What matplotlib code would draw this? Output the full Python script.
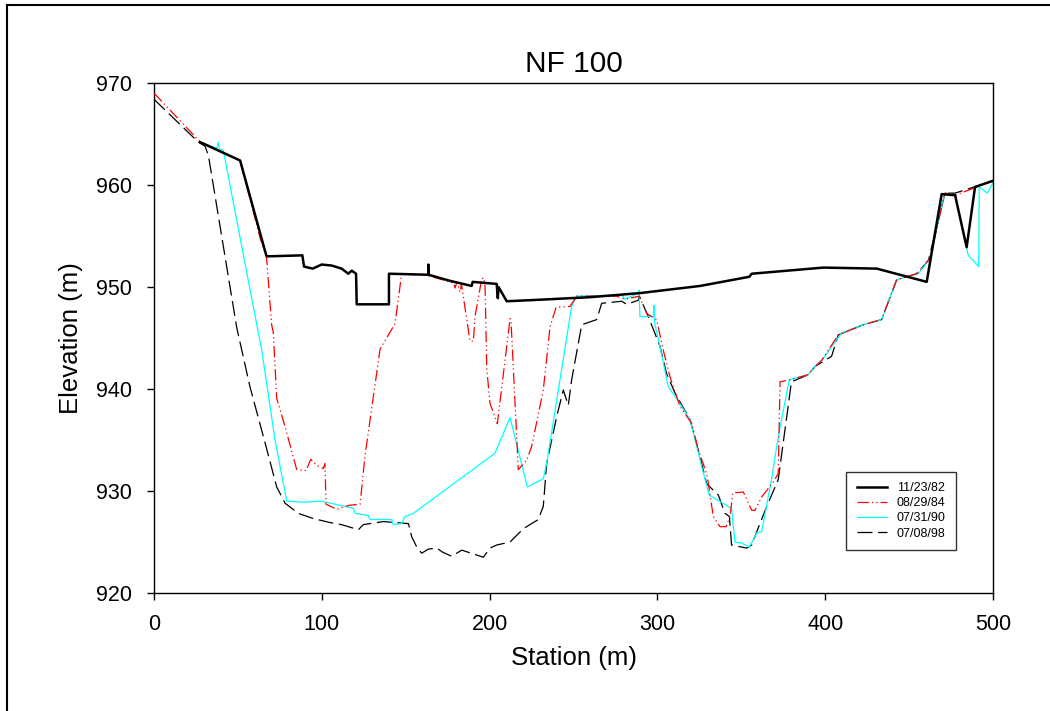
import matplotlib
matplotlib.use("Agg")
import matplotlib.pyplot as plt
from matplotlib.lines import Line2D

plt.rcParams['font.family'] = ['Liberation Sans', 'DejaVu Sans']

# 11/23/82 survey
sta_82 = [27.4, 51.3, 66.2, 67.1, 88.4, 89.4, 94.6, 99.9, 105.9, 111.8, 115.8, 117.8,
          120.4, 120.8, 140.0, 140.0, 163.4, 163.5, 163.6, 176.4, 189.3, 189.9, 204.2,
          204.9, 205.3, 210.2, 230.0, 260.0, 289.6, 325.4, 354.8, 356.2, 398.9, 430.7,
          460.5, 469.4, 477.4, 484.3, 489.3, 499.8]
elev_82 = [964.2, 962.4, 953.5, 953.0, 953.1, 952.0, 951.8, 952.2, 952.1, 951.8, 951.3, 951.6,
           951.3, 948.3, 948.3, 951.3, 951.2, 952.2, 951.2, 950.6, 950.1, 950.5, 950.3,
           948.9, 950.0, 948.6, 948.75, 949.0, 949.4, 950.1, 951.0, 951.3, 951.9, 951.8,
           950.5, 959.1, 959.0, 953.9, 959.8, 960.4]

# 08/29/84 survey
sta_84 = [0.0, 27.0, 51.3, 63.2, 67.0, 70.1, 71.1, 73.1, 78.1, 85.0, 90.6, 93.4, 97.0,
          100.9, 101.9, 102.5, 108.9, 116.4, 122.8, 125.7, 134.7, 143.6, 147.6, 163.4,
          163.5, 163.6, 178.4, 179.4, 180.5, 182.4, 183.2, 188.3, 190.3, 191.3, 195.3,
          196.5, 197.3, 198.3, 200.2, 204.6, 212.2, 212.8, 217.1, 222.1, 225.1, 232.0,
          236.0, 239.6, 247.9, 251.9, 275.7, 280.7, 289.2, 293.6, 299.5, 303.5, 307.5,
          309.5, 313.5, 320.5, 324.4, 329.4, 330.4, 333.3, 337.3, 340.9, 343.3, 344.9,
          351.2, 356.2, 358.2, 362.1, 369.1, 372.0, 373.1, 379.0, 389.9, 393.9, 397.9,
          407.8, 410.8, 422.7, 433.6, 442.6, 454.5, 462.4, 471.4, 477.4, 500.0]
elev_84 = [969.0, 964.3, 962.4, 954.8, 953.0, 946.3, 945.5, 939.1, 936.3, 932.1, 932.0, 933.1, 932.5,
           932.2, 932.7, 928.7, 928.2, 928.6, 928.7, 933.4, 943.9, 946.4, 951.3, 951.1,
           952.0, 951.1, 950.4, 949.9, 950.5, 949.5, 950.3, 944.7, 944.7, 947.1, 950.8,
           950.9, 950.0, 942.0, 938.6, 936.6, 946.9, 946.5, 932.1, 933.0, 934.4, 939.9,
           946.1, 948.0, 948.1, 949.1, 949.1, 948.8, 949.1, 947.4, 946.8, 943.8, 941.2,
           940.2, 938.3, 936.6, 934.0, 931.7, 930.7, 927.5, 926.5, 926.5, 927.5, 929.8,
           929.9, 928.1, 928.1, 929.4, 930.9, 931.7, 940.7, 940.9, 941.4, 942.2, 942.8,
           945.3, 945.5, 946.3, 946.8, 950.7, 951.3, 952.8, 959.2, 959.0, 960.4]

# 07/31/90 survey
sta_90 = [27.4, 37.5, 38.3, 39.0, 41.3, 58.2, 64.2, 72.1, 79.1, 90.0, 99.9, 118.8, 119.8,
          127.7, 128.7, 141.6, 142.6, 147.6, 149.6, 154.5, 203.2, 212.2, 222.5, 232.0,
          234.0, 248.9, 251.9, 278.7, 280.7, 288.6, 289.0, 289.6, 297.6, 297.9, 298.3,
          301.5, 306.5, 312.5, 319.4, 323.4, 326.4, 330.9, 344.2, 346.2, 350.2, 354.8,
          359.2, 362.1, 368.1, 372.0, 378.6, 389.9, 393.9, 397.9, 409.8, 422.7, 433.6,
          442.6, 455.5, 462.4, 471.4, 477.4, 485.3, 491.5, 491.8, 496.6, 500.0]
elev_90 = [964.2, 963.6, 964.2, 963.5, 963.4, 948.9, 943.8, 935.0, 929.0, 928.9, 929.0, 928.3, 927.8,
           927.6, 927.2, 927.2, 926.7, 926.8, 927.5, 927.8, 933.7, 937.2, 930.4, 931.2,
           932.7, 948.1, 949.1, 949.2, 948.8, 949.4, 949.7, 947.1, 947.1, 948.2, 946.5,
           944.2, 940.2, 938.8, 937.0, 934.4, 932.4, 929.6, 928.3, 925.0, 924.9, 924.5,
           925.9, 926.0, 931.2, 935.3, 940.9, 941.4, 942.2, 942.8, 945.5, 946.3, 946.8,
           950.7, 951.3, 952.8, 959.2, 959.0, 953.1, 952.0, 959.8, 959.2, 960.2]

# 07/08/98 survey
sta_98 = [0.0, 26.4, 30.4, 32.4, 49.3, 57.2, 66.2, 73.1, 78.1, 86.0, 94.9, 104.9, 111.8,
          121.8, 124.7, 136.7, 151.6, 153.6, 156.6, 159.5, 163.5, 168.5, 172.0, 177.4,
          183.4, 189.0, 196.3, 200.2, 204.2, 212.2, 220.1, 229.0, 232.0, 234.0, 240.0,
          243.9, 246.9, 248.9, 254.9, 263.8, 266.8, 278.7, 281.7, 288.6, 289.2, 294.6,
          301.5, 305.5, 310.5, 319.4, 324.4, 329.4, 336.3, 340.3, 342.9, 344.2, 350.2,
          353.2, 356.2, 359.2, 365.2, 372.0, 379.9, 389.9, 393.9, 403.8, 407.8, 422.7,
          433.6, 442.6, 454.5, 461.5, 471.4, 477.4, 500.0]
elev_98 = [968.4, 964.2, 963.8, 962.9, 946.0, 940.2, 934.7, 930.4, 928.8, 927.8, 927.3, 926.9, 926.7,
           926.2, 926.7, 927.0, 926.8, 925.5, 924.5, 923.9, 924.3, 924.4, 924.0, 923.6,
           924.2, 923.9, 923.5, 924.4, 924.7, 925.0, 926.3, 927.2, 928.5, 932.7, 937.3,
           939.9, 938.4, 940.9, 946.3, 946.8, 948.4, 948.6, 948.3, 948.7, 949.1, 947.1,
           944.2, 941.5, 939.6, 937.0, 934.0, 930.7, 929.6, 927.8, 927.5, 924.7, 924.5,
           924.4, 924.7, 926.0, 928.5, 931.1, 940.7, 941.4, 942.2, 943.2, 945.3, 946.3,
           946.8, 950.7, 951.3, 952.6, 959.2, 959.2, 960.4]

fig = plt.figure(figsize=(10.5, 7.11), dpi=100)
ax = fig.add_axes([0.1467, 0.166, 0.799, 0.7173])

ax.plot(sta_82, elev_82, color='black', lw=1.8, label='11/23/82', zorder=4)
ax.plot(sta_84, elev_84, color='red', lw=0.9, dashes=(9, 2.5, 1, 2.5, 1, 2.5),
        label='08/29/84', zorder=3)
ax.plot(sta_90, elev_90, color='cyan', lw=0.9, label='07/31/90', zorder=2)
ax.plot(sta_98, elev_98, color='black', lw=0.9, dashes=(12, 4.5), label='07/08/98', zorder=1)

ax.set_xlim(0, 500)
ax.set_ylim(920, 970)
ax.set_xticks([0, 100, 200, 300, 400, 500])
ax.set_yticks([920, 930, 940, 950, 960, 970])
ax.tick_params(direction='out', length=5, width=1, labelsize=15.5)
ax.tick_params(axis='x', pad=10)
ax.tick_params(axis='y', pad=11)
for sp in ax.spines.values():
    sp.set_linewidth(1)

ax.set_title('NF 100', fontsize=21.5, pad=8)
ax.set_xlabel('Station (m)', fontsize=18.5, labelpad=8)
ax.set_ylabel('Elevation (m)', fontsize=18.5, labelpad=9)

leg = ax.legend(loc='lower right', bbox_to_anchor=(0.956, 0.084), fontsize=9,
                frameon=True, fancybox=False, edgecolor='black', handlelength=2.4,
                borderpad=0.85, labelspacing=0.25, borderaxespad=0)
leg.get_frame().set_linewidth(1)

# figure border (top and left)
fig.add_artist(Line2D([0.0067, 0.0067], [0, 0.993], color='black', lw=1.5,
                      transform=fig.transFigure))
fig.add_artist(Line2D([0.0067, 1.0], [0.993, 0.993], color='black', lw=1.5,
                      transform=fig.transFigure))

fig.savefig('out.png', dpi=100)
